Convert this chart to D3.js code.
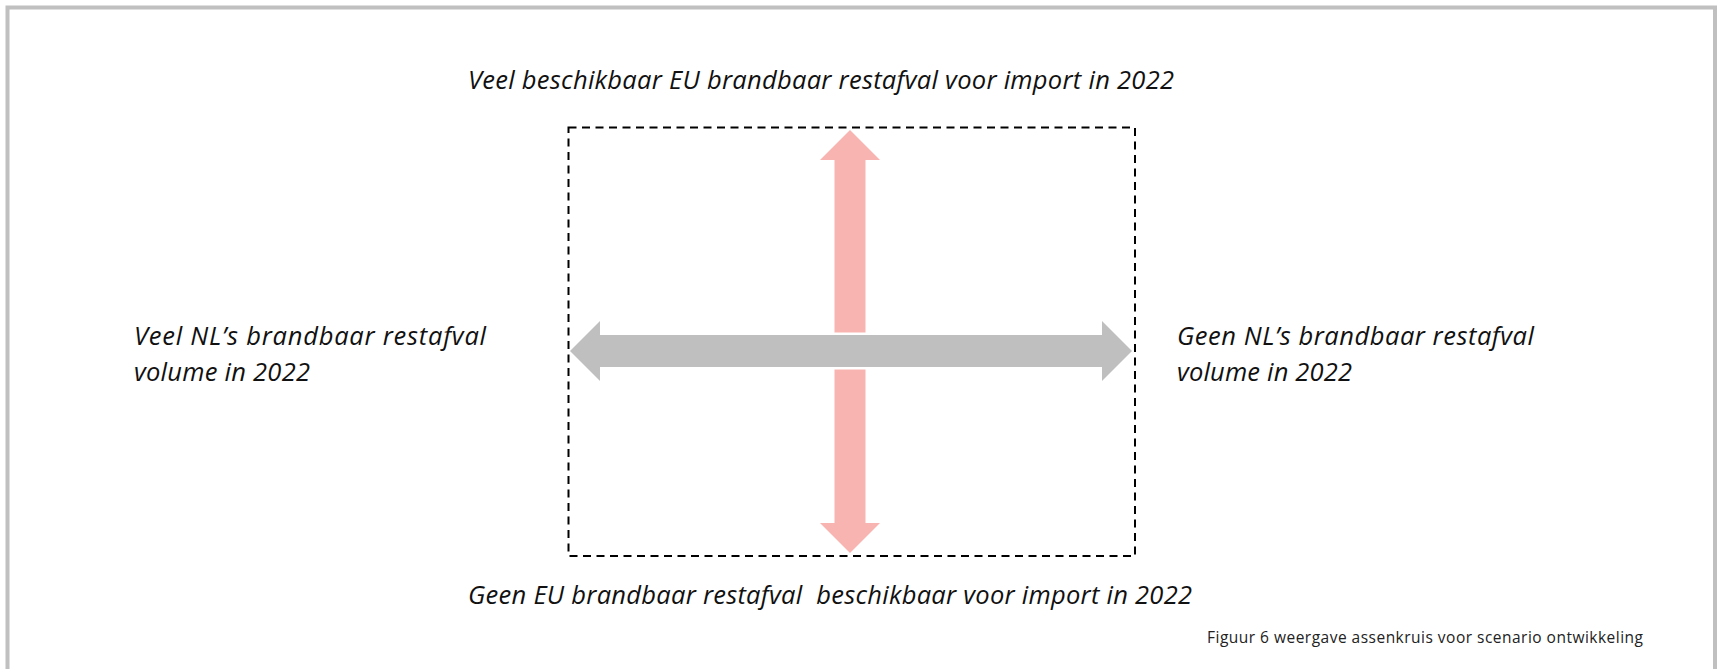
<!DOCTYPE html>
<html lang="en">
<head>
    <meta charset="utf-8">
    <title>Assenkruis scenario ontwikkeling</title>
    <script src="https://d3js.org/d3.v7.min.js"></script>
    <style>
        body {
            margin: 0;
            background: #fff;
        }
        .axis-label {
            font-family: "Open Sans", Lato, sans-serif;
            font-style: italic;
            font-size: 25.5px;
            fill: #111;
            white-space: pre;
        }
        .caption {
            font-family: "Open Sans", Lato, sans-serif;
            font-size: 15.5px;
            fill: #222;
        }
    </style>
</head>
<body>
    <div id="chart"></div>
    <script>
        // Diagram content
        const axisDomain = [-1, 1];
        const verticalLabels = [
            "Veel beschikbaar EU brandbaar restafval voor import in 2022",
            "Geen EU brandbaar restafval  beschikbaar voor import in 2022"
        ];
        const leftLabel = ["Veel NL\u2019s brandbaar restafval", "volume in 2022"];
        const rightLabel = ["Geen NL\u2019s brandbaar restafval", "volume in 2022"];
        const caption = "Figuur 6 weergave assenkruis voor scenario ontwikkeling";

        const width = 1719, height = 669;

        const svg = d3.select("#chart").append("svg")
            .attr("width", width)
            .attr("height", height);

        // outer frame (bottom edge runs off the picture)
        svg.append("rect")
            .attr("x", 7.5)
            .attr("y", 7.5)
            .attr("width", 1707.5)
            .attr("height", 700)
            .attr("fill", "none")
            .attr("stroke", "#c0c0c0")
            .attr("stroke-width", 4);

        // scales of the two axes
        const x = d3.scaleLinear().domain(axisDomain).range([570, 1132]);
        const y = d3.scaleLinear().domain(axisDomain).range([553, 130]);
        const crossX = 850;   // where the vertical arrow sits
        const crossY = 351;   // where the horizontal arrow sits

        const shaft = 31, head = 60, headLen = 30;

        // vertical arrow (pink)
        function vArrow(cx, y0, y1) {
            const p = d3.path();
            const top = Math.min(y0, y1), bot = Math.max(y0, y1);
            p.moveTo(cx, top);
            p.lineTo(cx + head / 2, top + headLen);
            p.lineTo(cx + shaft / 2, top + headLen);
            p.lineTo(cx + shaft / 2, bot - headLen);
            p.lineTo(cx + head / 2, bot - headLen);
            p.lineTo(cx, bot);
            p.lineTo(cx - head / 2, bot - headLen);
            p.lineTo(cx - shaft / 2, bot - headLen);
            p.lineTo(cx - shaft / 2, top + headLen);
            p.lineTo(cx - head / 2, top + headLen);
            p.closePath();
            return p.toString();
        }

        // horizontal arrow (grey)
        function hArrow(cy, x0, x1) {
            const p = d3.path();
            const l = Math.min(x0, x1), r = Math.max(x0, x1);
            const s = shaft + 1;
            p.moveTo(l, cy);
            p.lineTo(l + headLen, cy - head / 2);
            p.lineTo(l + headLen, cy - s / 2);
            p.lineTo(r - headLen, cy - s / 2);
            p.lineTo(r - headLen, cy - head / 2);
            p.lineTo(r, cy);
            p.lineTo(r - headLen, cy + head / 2);
            p.lineTo(r - headLen, cy + s / 2);
            p.lineTo(l + headLen, cy + s / 2);
            p.lineTo(l + headLen, cy + head / 2);
            p.closePath();
            return p.toString();
        }

        svg.append("path")
            .attr("d", vArrow(crossX, y(axisDomain[0]), y(axisDomain[1])))
            .attr("fill", "#f8b4b0");

        svg.append("path")
            .attr("d", hArrow(crossY, x(axisDomain[0]), x(axisDomain[1])))
            .attr("fill", "#bfbfbf")
            .attr("stroke", "#fff")
            .attr("stroke-width", 5)
            .attr("stroke-linejoin", "bevel")
            .style("paint-order", "stroke");

        // dashed frame around the cross
        svg.append("rect")
            .attr("x", 568.5)
            .attr("y", 127.5)
            .attr("width", 566.5)
            .attr("height", 428.5)
            .attr("fill", "none")
            .attr("stroke", "#000")
            .attr("stroke-width", 2)
            .attr("stroke-dasharray", "8,5.5");

        // labels, fitted to the widths of the original typeface
        function label(txt, lx, ly, len) {
            return svg.append("text")
                .attr("class", "axis-label")
                .attr("x", lx)
                .attr("y", ly)
                .attr("textLength", len)
                .attr("lengthAdjust", "spacing")
                .text(txt);
        }

        label(verticalLabels[0], 468, 89, 706);
        label(verticalLabels[1], 468, 604, 724);

        label(leftLabel[0], 134, 345, 352);
        label(leftLabel[1], 134, 381, 176);
        label(rightLabel[0], 1177, 345, 357);
        label(rightLabel[1], 1177, 381, 175);

        svg.append("text")
            .attr("class", "caption")
            .attr("x", 1207)
            .attr("y", 643)
            .attr("textLength", 436)
            .attr("lengthAdjust", "spacing")
            .text(caption);
    </script>
</body>
</html>
